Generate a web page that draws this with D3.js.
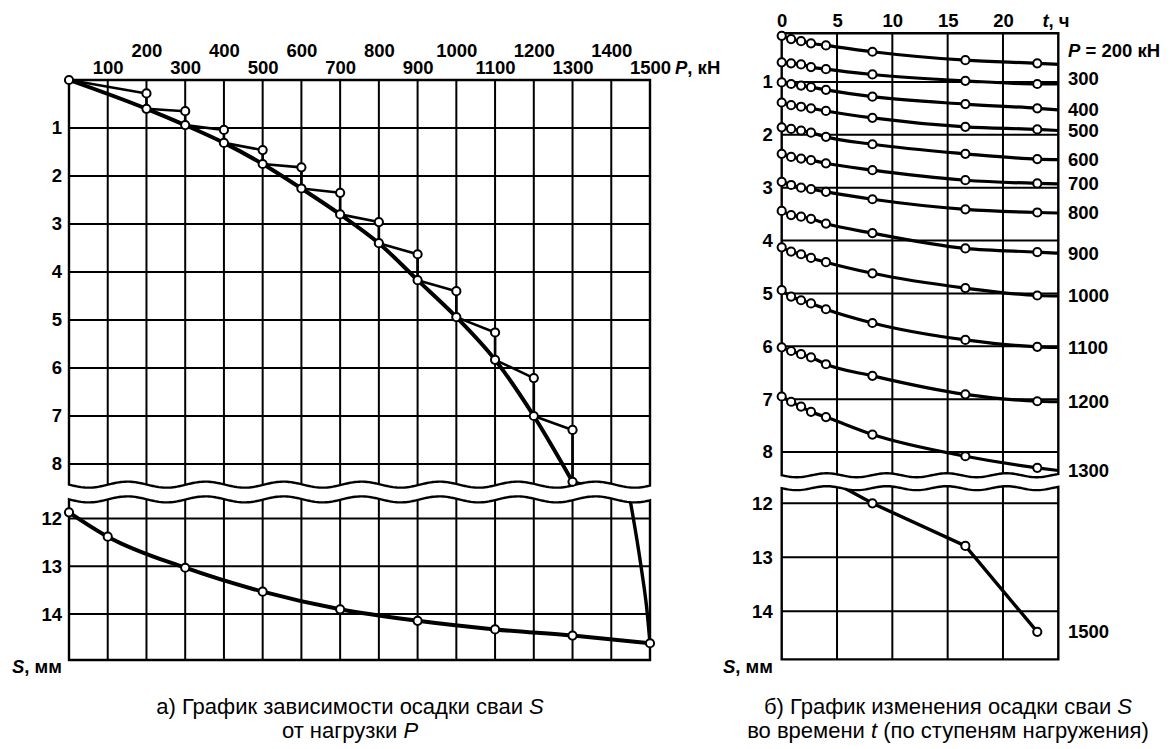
<!DOCTYPE html>
<html>
<head>
<meta charset="utf-8">
<script src="https://cdn.jsdelivr.net/npm/d3@7"></script>
<style>
  body { margin: 0; background: #fff; }
  text { font-family: "Liberation Sans", Arial, sans-serif; fill: #000; }
  .ax text, .lbl { font-size: 18.5px; font-weight: bold; }
  .cap { font-size: 22px; }
</style>
</head>
<body>
<div id="chart"></div>
<script>
// Left chart: settlement S (mm) vs load P (kN)
var loadSteps   = [200, 300, 400, 500, 600, 700, 800, 900, 1000, 1100, 1200, 1300];
var settleStart = [0.28, 0.65, 1.04, 1.46, 1.82, 2.35, 2.96, 3.63, 4.40, 5.26, 6.21, 7.29];
var settleEnd   = [0.60, 0.94, 1.31, 1.75, 2.26, 2.80, 3.40, 4.17, 4.94, 5.83, 7.00, 8.37];
// run-away from 1300 kN to 1500 kN (passes through the axis break)
var failLoadUpper   = [1300, 1380];
var failSettleUpper = [8.37, 8.55];
var failLoadLower   = [1444, 1477, 1492, 1500];
var failSettleLower = [11.40, 13.01, 13.91, 14.61];
// unloading branch
var unloadLoad   = [0, 100, 300, 500, 700, 900, 1100, 1300, 1500];
var unloadSettle = [11.87, 12.38, 13.03, 13.53, 13.90, 14.14, 14.32, 14.45, 14.61];

// Right chart: settlement S (mm) vs time t (h), one curve per load step
var hours = [0, 0.85, 1.75, 2.65, 4, 8.2, 16.6, 23.1];
var timeLoads = [200, 300, 400, 500, 600, 700, 800, 900, 1000, 1100, 1200, 1300];
var timeSettle = [
  [0.13, 0.19, 0.23, 0.27, 0.31, 0.43, 0.59, 0.65],
  [0.63, 0.65, 0.67, 0.72, 0.76, 0.86, 0.98, 1.04],
  [1.01, 1.04, 1.07, 1.10, 1.15, 1.28, 1.42, 1.50],
  [1.39, 1.44, 1.47, 1.50, 1.55, 1.68, 1.85, 1.90],
  [1.86, 1.89, 1.92, 1.96, 2.04, 2.18, 2.36, 2.46],
  [2.36, 2.42, 2.45, 2.48, 2.54, 2.67, 2.86, 2.92],
  [2.89, 2.95, 3.00, 3.03, 3.08, 3.22, 3.41, 3.47],
  [3.44, 3.52, 3.55, 3.59, 3.68, 3.86, 4.15, 4.22],
  [4.13, 4.21, 4.26, 4.33, 4.41, 4.62, 4.90, 5.04],
  [4.94, 5.06, 5.13, 5.19, 5.30, 5.56, 5.88, 6.01],
  [6.02, 6.09, 6.15, 6.21, 6.34, 6.56, 6.91, 7.04],
  [6.95, 7.05, 7.14, 7.24, 7.34, 7.67, 8.08, 8.30]
];
var timeSettleEdge = [0.67, 1.04, 1.53, 1.92, 2.47, 2.93, 3.48, 4.24, 5.05, 6.02, 7.05, 8.35]; // at t = 25
var hours1500  = [4, 8.2, 16.6, 23.1];
var settle1500 = [11.53, 12.00, 12.79, 14.38];

// tick labels
var pTicksEven = [200, 400, 600, 800, 1000, 1200, 1400];
var pTicksOdd  = [100, 300, 500, 700, 900, 1100, 1300, 1500];
var sTicksUpper = [1, 2, 3, 4, 5, 6, 7, 8];
var sTicksLower = [12, 13, 14];
var tTicks = [0, 5, 10, 15, 20];

var svg = d3.select("#chart").append("svg")
  .attr("width", 1172).attr("height", 749)
  .style("background", "#fff");
var defs = svg.append("defs");

// scales (two panels per chart because of the broken S axis)
var xL = d3.scaleLinear([0, 1500], [69, 650]);
var yLTop = d3.scaleLinear([0, 8], [80, 464]);
var yLBot = d3.scaleLinear([12, 14], [518.5, 614.1]);
var xR = d3.scaleLinear([0, 25], [781.7, 1058.3]);
var yRTop = d3.scaleLinear([0, 8], [29, 452]);
var yRBot = d3.scaleLinear([12, 14], [503.3, 611.3]);
var fmt = d3.format("d");

function wave(x0, x1, yBase, amp, period) {
  return d3.range(x0, x1, 2).concat([x1]).map(function (x) {
    return [x, yBase + amp * Math.sin(2 * Math.PI * (x - x0) / period)];
  });
}

// Draw a framed panel with grid; returns a clipped group for the data lines.
function panel(id, x, y, dom, waveTop, waveBot, wv, xGrid, yGrid) {
  var l = x.range()[0], r = x.range()[1];
  var t = y(dom[0]), b = y(dom[1]);
  var topPts = waveTop ? wave(l, r, t, wv.amp, wv.period) : [[l, t], [r, t]];
  var botPts = waveBot ? wave(l, r, b, wv.amp, wv.period) : [[l, b], [r, b]];
  var outline = "M" + topPts.concat(botPts.slice().reverse()).join("L") + "Z";

  defs.append("clipPath").attr("id", id).append("path").attr("d", outline);
  var g = svg.append("g");
  var inner = g.append("g").attr("clip-path", "url(#" + id + ")");
  inner.selectAll(".vg").data(xGrid).join("line")
    .attr("x1", d => x(d)).attr("x2", d => x(d))
    .attr("y1", t - 10).attr("y2", b + 10)
    .attr("stroke", "#000").attr("stroke-width", 2);
  inner.selectAll(".hg").data(yGrid).join("line")
    .attr("x1", l).attr("x2", r)
    .attr("y1", d => y(d)).attr("y2", d => y(d))
    .attr("stroke", "#000").attr("stroke-width", 2);
  g.append("path").attr("d", outline)
    .attr("fill", "none").attr("stroke", "#000").attr("stroke-width", 2.4);
  return inner;
}

var pGrid = d3.range(100, 1500, 100);
var waveL = {amp: 3, period: 78};
var waveR = {amp: 2, period: 60};

var gLT = panel("clipLT", xL, yLTop, [0, 8.43], false, true, waveL, pGrid, sTicksUpper);
var gLB = panel("clipLB", xL, yLBot, [11.6, 14.96], true, false, waveL, pGrid, sTicksLower);
var gRT = panel("clipRT", xR, yRTop, [0.08, 8.44], false, true, waveR, [5, 10, 15, 20], sTicksUpper);
var gRB = panel("clipRB", xR, yRBot, [11.72, 14.89], true, false, waveR, [5, 10, 15, 20], sTicksLower);

function line(x, y, curve) {
  return d3.line().x(d => x(d[0])).y(d => y(d[1])).curve(curve || d3.curveLinear);
}

// ---- left chart data ----
var stairs = [[0, 0]];
var finals = [[0, 0]];
loadSteps.forEach(function (p, i) {
  stairs.push([p, settleStart[i]], [p, settleEnd[i]]);
  finals.push([p, settleEnd[i]]);
});
var failUp = failLoadUpper.map((p, i) => [p, failSettleUpper[i]]);
var failLo = failLoadLower.map((p, i) => [p, failSettleLower[i]]);
var unload = unloadLoad.map((p, i) => [p, unloadSettle[i]]);

gLT.append("path").datum(stairs).attr("d", line(xL, yLTop))
  .attr("fill", "none").attr("stroke", "#000").attr("stroke-width", 2.6).attr("stroke-linejoin", "round");
gLT.append("path").datum(finals).attr("d", line(xL, yLTop, d3.curveMonotoneX))
  .attr("fill", "none").attr("stroke", "#000").attr("stroke-width", 4);
gLT.append("path").datum(failUp).attr("d", line(xL, yLTop))
  .attr("fill", "none").attr("stroke", "#000").attr("stroke-width", 3.4);
gLB.append("path").datum(failLo).attr("d", line(xL, yLBot, d3.curveMonotoneX))
  .attr("fill", "none").attr("stroke", "#000").attr("stroke-width", 3.4);
gLB.append("path").datum(unload).attr("d", line(xL, yLBot, d3.curveMonotoneX))
  .attr("fill", "none").attr("stroke", "#000").attr("stroke-width", 4);

function dots(data, x, y) {
  svg.append("g").selectAll("circle").data(data).join("circle")
    .attr("cx", d => x(d[0])).attr("cy", d => y(d[1])).attr("r", 4.1)
    .attr("fill", "#fff").attr("stroke", "#000").attr("stroke-width", 2);
}
dots(stairs, xL, yLTop);
dots(unload, xL, yLBot);

// ---- right chart data ----
timeLoads.forEach(function (p, i) {
  var pts = hours.map((t, j) => [t, timeSettle[i][j]]);
  gRT.append("path").datum(pts.concat([[25, timeSettleEdge[i]]]))
    .attr("d", line(xR, yRTop, d3.curveMonotoneX))
    .attr("fill", "none").attr("stroke", "#000").attr("stroke-width", 3.2);
  dots(pts, xR, yRTop);
});
var pts1500 = hours1500.map((t, j) => [t, settle1500[j]]);
gRB.append("path").datum(pts1500).attr("d", line(xR, yRBot))
  .attr("fill", "none").attr("stroke", "#000").attr("stroke-width", 3.4);
dots(pts1500.slice(1), xR, yRBot);

// ---- axes ----
function axis(g) { g.attr("class", "ax").call(s => s.select(".domain").remove()); }

svg.append("g").attr("transform", "translate(0,57)")
  .call(d3.axisTop(xL).tickValues(pTicksEven).tickFormat(fmt).tickSize(0).tickPadding(0)).call(axis);
svg.append("g").attr("transform", "translate(0,74)")
  .call(d3.axisTop(xL).tickValues(pTicksOdd).tickFormat(fmt).tickSize(0).tickPadding(0)).call(axis);
svg.append("g").attr("transform", "translate(69,0)")
  .call(d3.axisLeft(yLTop).tickValues(sTicksUpper).tickFormat(fmt).tickSize(0).tickPadding(7)).call(axis);
svg.append("g").attr("transform", "translate(69,0)")
  .call(d3.axisLeft(yLBot).tickValues(sTicksLower).tickFormat(fmt).tickSize(0).tickPadding(7)).call(axis);

svg.append("g").attr("transform", "translate(0,27)")
  .call(d3.axisTop(xR).tickValues(tTicks).tickFormat(fmt).tickSize(0).tickPadding(0)).call(axis);
svg.append("g").attr("transform", "translate(" + xR(0) + ",0)")
  .call(d3.axisLeft(yRTop).tickValues(sTicksUpper).tickFormat(fmt).tickSize(0).tickPadding(9)).call(axis);
svg.append("g").attr("transform", "translate(" + xR(0) + ",0)")
  .call(d3.axisLeft(yRBot).tickValues(sTicksLower).tickFormat(fmt).tickSize(0).tickPadding(9)).call(axis);

// axis titles
var pTitle = svg.append("text").attr("class", "lbl").attr("x", 675).attr("y", 74);
pTitle.append("tspan").attr("font-style", "italic").text("P");
pTitle.append("tspan").text(", кН");

var tTitle = svg.append("text").attr("class", "lbl").attr("x", 1056).attr("y", 27).attr("text-anchor", "middle");
tTitle.append("tspan").attr("font-style", "italic").text("t");
tTitle.append("tspan").text(", ч");

[[62, 673], [773, 673]].forEach(function (pos) {
  var s = svg.append("text").attr("class", "lbl").attr("x", pos[0]).attr("y", pos[1]).attr("text-anchor", "end");
  s.append("tspan").attr("font-style", "italic").text("S");
  s.append("tspan").text(", мм");
});

// load labels at the right of the time chart
timeLoads.forEach(function (p, i) {
  var shift = i === 0 ? -14 : (i === 1 ? -5 : 0);
  var t = svg.append("text").attr("class", "lbl").attr("x", 1068)
    .attr("y", yRTop(timeSettleEdge[i]) + shift).attr("dy", "0.35em");
  if (i === 0) {
    t.append("tspan").attr("font-style", "italic").text("P");
    t.append("tspan").text(" = " + p + " кН");
  } else {
    t.text(p);
  }
});
svg.append("text").attr("class", "lbl").attr("x", 1068)
  .attr("y", yRBot(settle1500[settle1500.length - 1])).attr("dy", "0.35em").text(1500);

// captions
function caption(x, y, parts) {
  var c = svg.append("text").attr("class", "cap").attr("x", x).attr("y", y).attr("text-anchor", "middle");
  parts.forEach(function (p, i) {
    c.append("tspan").attr("font-style", i % 2 ? "italic" : null).text(p);
  });
}
caption(350, 714, ["а) График зависимости осадки сваи ", "S"]);
caption(350, 738, ["от нагрузки ", "P"]);
caption(948, 714, ["б) График изменения осадки сваи ", "S"]);
caption(948, 738, ["во времени ", "t", " (по ступеням нагружения)"]);
</script>
</body>
</html>
